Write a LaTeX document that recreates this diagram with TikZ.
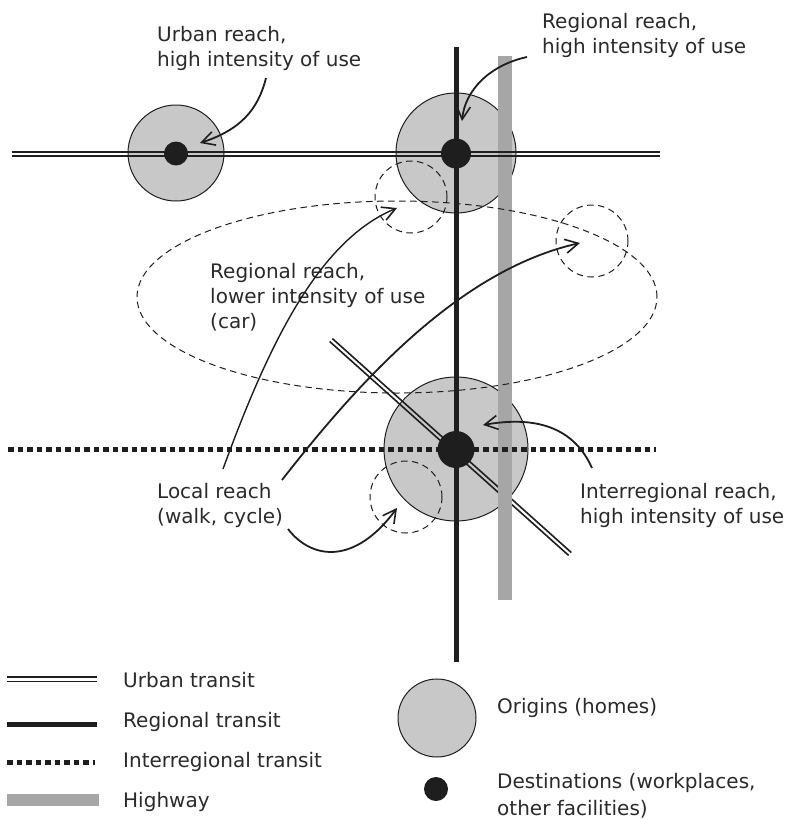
\documentclass[tikz,border=0pt]{standalone}
\usepackage{fontspec}
\setmainfont{DejaVu Sans}
\usetikzlibrary{arrows.meta}
\definecolor{ink}{HTML}{1E1E1E}
\definecolor{txt}{HTML}{2A2A2A}
\definecolor{origingray}{HTML}{C8C8C8}
\definecolor{hwy}{HTML}{A6A6A6}
\begin{document}
\begin{tikzpicture}[x=1pt,y=-1pt,
  lbl/.style={anchor=base west, inner sep=0pt, align=left, text=txt, font=\fontsize{20}{25}\selectfont},
  originc/.style={circle, draw=ink, line width=1pt, fill=origingray, inner sep=0pt, minimum size=#1},
  destc/.style={circle, fill=ink, inner sep=0pt, minimum size=#1},
  zone/.style={draw=ink, line width=1pt, dash pattern=on 6.5pt off 4.5pt},
  zonec/.style={zone, circle, inner sep=0pt, minimum size=72pt},
  reach/.style={draw=ink, line width=1.8pt, -{Straight Barb[length=13pt,width=14pt,line width=1.6pt]}},
  regional/.style={draw=ink, line width=5pt},
  highway/.style={draw=hwy, line width=14pt},
  inter/.style={draw=ink, line width=5pt, dash pattern=on 5.5pt off 4pt},
  urbanline/.style={draw=ink, line width=1.6pt}]
\useasboundingbox (0,0) rectangle (785,819);

% origins
\node[originc=96pt] (o1) at (176,153) {};
\node[originc=120pt] (o2) at (456,153) {};
\node[originc=144pt] (o3) at (456,449) {};

% diagonal urban transit
\draw[urbanline] (329.7,341.5) -- (568.7,555.5);
\draw[urbanline] (332.3,338.5) -- (571.3,552.5);

% highway
\draw[highway] (505,56) -- (505,600);

% horizontal urban transit
\draw[urbanline] (12,151.7) -- (660,151.7);
\draw[urbanline] (12,155.7) -- (660,155.7);

% interregional transit
\draw[inter] (8,449) -- (656,449);

% regional transit
\draw[regional] (456,47) -- (456,662);

% regional reach zone (car)
\draw[zone] (397,297) ellipse [x radius=260pt, y radius=96pt];

% dashed reach circles
\node[zonec] (z1) at (411,197) {};
\node[zonec] (z2) at (592,241) {};
\node[zonec] (z3) at (406,497) {};

% destinations
\node[destc=24pt] (d1) at (176,153.5) {};
\node[destc=30pt] (d2) at (456,153.5) {};
\node[destc=37pt] (d3) at (456,449.5) {};

% labels (anchor = baseline of last line)
\node[lbl] (lurban) at (157,66) {Urban reach,\\high intensity of use};
\node[lbl] (lreg) at (542,53) {Regional reach,\\high intensity of use};
\node[lbl] (lcar) at (210,328) {Regional reach,\\lower intensity of use\\(car)};
\node[lbl] (llocal) at (157,523) {Local reach\\(walk, cycle)};
\node[lbl] (linter) at (580,523) {Interregional reach,\\high intensity of use};

% arrow ends
\coordinate (s1) at (266,78);  \coordinate (t1) at (200,143);
\coordinate (s2) at (527,57);  \coordinate (t2) at (462,121);
\coordinate (s3) at (223,469); \coordinate (t3) at (397,208);
\coordinate (s4) at (282,480); \coordinate (t4) at (580,243);
\coordinate (s5) at (288,529); \coordinate (t5) at (397,508);
\coordinate (s6) at (592,468); \coordinate (t6) at (483,425);

\draw[reach] (s1) .. controls (258,110) and (240,130) .. (t1);
\draw[reach] (s2) .. controls (490,65) and (465,90) .. (t2);
\draw[reach, line width=1.4pt] (s3) .. controls (270,340) and (320,240) .. (t3);
\draw[reach] (s4) .. controls (360,380) and (460,270) .. (t4);
\draw[reach] (s5) .. controls (312,560) and (355,565) .. (t5);
\draw[reach] (s6) .. controls (575,430) and (540,415) .. (t6);

% legend
\draw[urbanline, line width=1.4pt] (7,677) -- (97,677);
\draw[urbanline, line width=1.4pt] (7,681.5) -- (97,681.5);
\draw[regional] (7,724) -- (97,724);
\draw[inter] (7,762) -- (95,762);
\draw[highway, line width=12pt] (7,800) -- (99,800);
\node[lbl] (kurban) at (123,687) {Urban transit};
\node[lbl] (kreg) at (123,727) {Regional transit};
\node[lbl] (kinter) at (123,767) {Interregional transit};
\node[lbl] (khwy) at (123,807) {Highway};
\node[originc=78pt] (ko) at (437,718) {};
\node[destc=24pt] (kd) at (436,789) {};
\node[lbl] (korig) at (497,713) {Origins (homes)};
\node[lbl] (kdest) at (497,815) {Destinations (workplaces,\\[2pt]other facilities)};
\end{tikzpicture}
\end{document}
